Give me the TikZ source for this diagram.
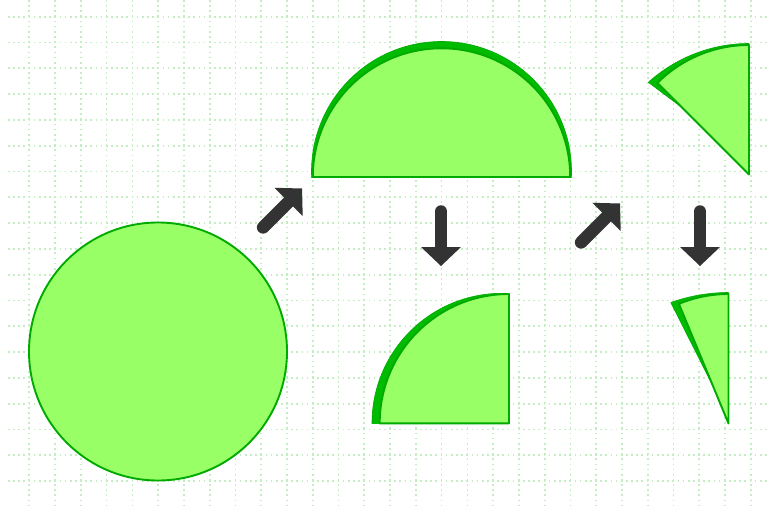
\documentclass[tikz,border=0pt]{standalone}
\usetikzlibrary{calc}
\definecolor{lightfill}{HTML}{99FF66}
\definecolor{edgegreen}{HTML}{00AA00}
\definecolor{bandgreen}{HTML}{00BB00}
\definecolor{gridgreen}{HTML}{C4EDC4}
\definecolor{arrowgray}{HTML}{333333}
\tikzset{
 gridline/.style={gridgreen, line width=1.7pt, dash pattern=on 1.7pt off 3.45pt},
 piece/.style={fill=lightfill, draw=edgegreen, line width=1.9pt, line join=round},
 band/.style={fill=bandgreen, draw=edgegreen, line width=0.6pt, line join=round},
 arrowshaft/.style={draw=arrowgray, line width=12.5pt, line cap=round},
 arrowhead/.style={fill=arrowgray},
}
\begin{document}
\begin{tikzpicture}[x=1pt,y=-1pt]
\useasboundingbox (0,0) rectangle (770,506);
\fill[white] (0,0) rectangle (770,506);
% grid
\foreach \i in {0,...,28} \draw[gridline] ({29.3+25.77*\i},0) -- ({29.3+25.77*\i},506);
\foreach \j in {0,...,18} \draw[gridline] (8,{16.7+25.8*\j}) -- (770,{16.7+25.8*\j});
% whole circle
\draw[piece] (158,351.5) circle[radius=129pt];
% semicircle
\begin{scope}
\clip (300,0) rectangle (590,177);
\draw[band] (441.5,171.5) circle[radius=130pt];
\end{scope}
\draw[piece] (312.8,177) arc[start angle=180,end angle=0,radius=128.7pt] -- cycle;
% quarter circle
\begin{scope}
\clip (360,280) rectangle (509,423.3);
\draw[band] (502,423.3) circle[radius=130pt];
\end{scope}
\draw[piece] (509,423.3) -- (379.7,423.3) arc[start angle=180,end angle=90,radius=129.3pt] -- cycle;
% eighth (top right)
\begin{scope}
\clip (600,0) rectangle (749,200);
\draw[band] (749,174.5) -- plot[domain=86:137.5,samples=40]
  ({749+(131+5.5*((\x-90)/47.5)*((\x-90)/47.5))*cos(\x)},{174.5-(131+5.5*((\x-90)/47.5)*((\x-90)/47.5))*sin(\x)})
  -- (682.1,107.6) -- cycle;
\end{scope}
\draw[piece] (749,174.5) -- (657.43,82.93) arc[start angle=135,end angle=90,radius=129.5pt] -- cycle;
% sixteenth (bottom right)
\begin{scope}
\clip (640,280) rectangle (728.5,430);
\draw[band] (728.5,423.5) -- plot[domain=86:115.5,samples=30]
  ({728.5+(131+3*((\x-90)/25.5)*((\x-90)/25.5))*cos(\x)},{423.5-(131+3*((\x-90)/25.5)*((\x-90)/25.5))*sin(\x)})
  -- (713.4,387) -- cycle;
\end{scope}
\draw[piece] (728.5,423.5) -- (678.94,303.86) arc[start angle=112.5,end angle=90,radius=129.5pt] -- cycle;
% arrows
\coordinate (a1tail) at (263.1,227.4); \coordinate (a1neck) at (290,200.5);
\draw[arrowshaft] (a1tail) -- (a1neck);
\fill[arrowhead] (302,188.5) -- (302.71,216.07) -- (274.43,187.79) -- cycle;
\coordinate (a2tail) at (581.1,242.4); \coordinate (a2neck) at (608,215.5);
\draw[arrowshaft] (a2tail) -- (a2neck);
\fill[arrowhead] (620,203.5) -- (620.71,231.07) -- (592.43,202.79) -- cycle;
\coordinate (d1tail) at (441,211.5); \coordinate (d1neck) at (441,249);
\draw[arrowshaft] (d1tail) -- (d1neck);
\fill[arrowhead] (441,266) -- (421,247) -- (461,247) -- cycle;
\coordinate (d2tail) at (700,211.5); \coordinate (d2neck) at (700,249);
\draw[arrowshaft] (d2tail) -- (d2neck);
\fill[arrowhead] (700,266) -- (680,247) -- (720,247) -- cycle;
\end{tikzpicture}
\end{document}
